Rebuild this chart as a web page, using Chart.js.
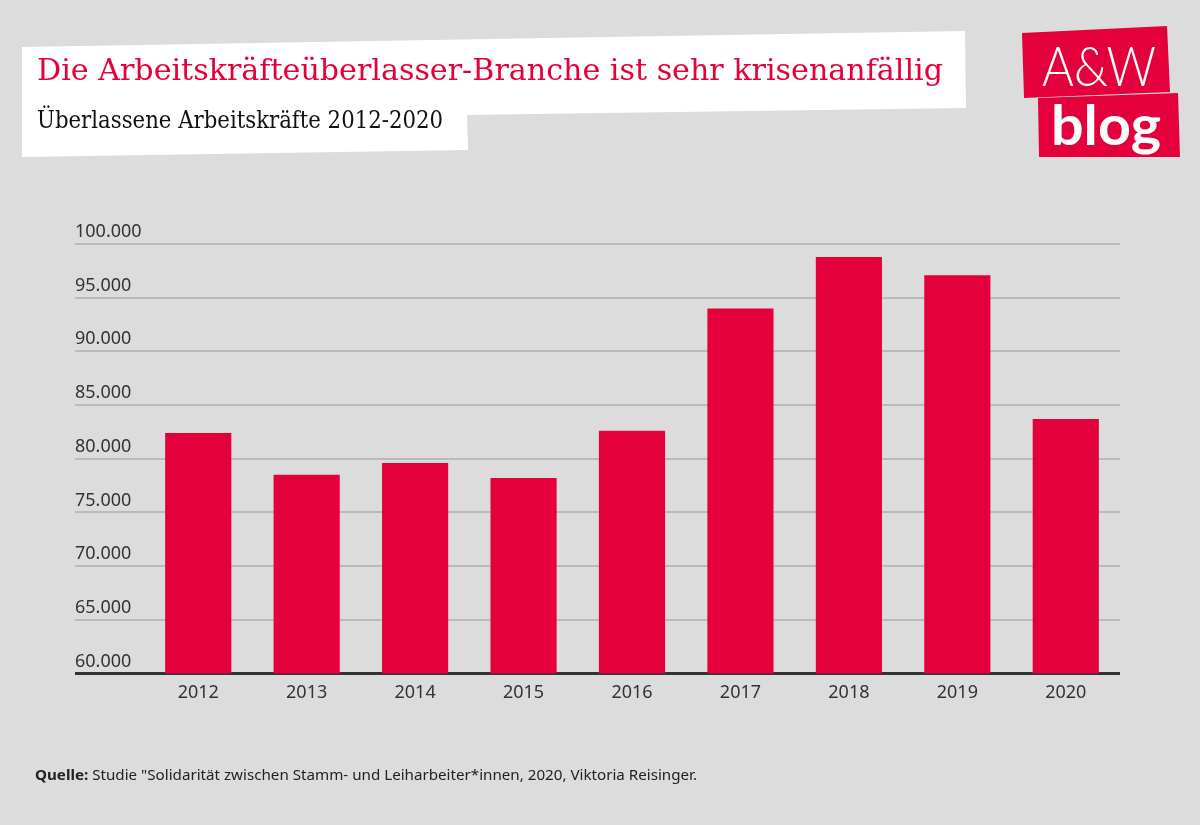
<!DOCTYPE html>
<html>
<head>
<meta charset="utf-8">
<script src="https://cdn.jsdelivr.net/npm/chart.js@4"></script>
<style>
  html, body { margin: 0; padding: 0; background: #dcdcdc; }
  #wrap { position: relative; width: 1200px; height: 825px; overflow: hidden; background: #dcdcdc; }
  #chart { position: absolute; left: 0; top: 0; }
  .box { position: absolute; background: #fff; }
  #titleBox { left: 0; top: 0; width: 1000px; height: 170px;
    clip-path: polygon(22px 47px, 965px 31px, 966px 108px, 467px 115px, 468px 150px, 22px 157px); }
  .txt { position: absolute; white-space: nowrap; transform-origin: 0 0; }
  #title { left: 37px; top: 52px; font-family: "DejaVu Serif", serif; font-size: 30px; color: #e4003b; }
  #subtitle { left: 37px; top: 105px; font-family: "DejaVu Serif", serif; font-size: 25px; color: #111; }
  .logo { position: absolute; background: #e4003b; left: 0; top: 0; width: 1200px; height: 170px; }
  #logo1 { clip-path: polygon(1022px 33px, 1167px 26px, 1170px 92px, 1024px 98px); }
  #logo2 { clip-path: polygon(1038px 98px, 1178px 93px, 1180px 157px, 1039px 157px); }
  #aw { left: 1042px; top: 32px; font-family: Lato, sans-serif; font-weight: 300; font-size: 55px; color: #fff; }
  #blog { left: 1051px; top: 90px; font-family: Lato, sans-serif; font-weight: 700; font-size: 56px; color: #fff; }
  #source { left: 35px; top: 764px; font-family: "Noto Sans", sans-serif; font-size: 15px; color: #222; }
</style>
</head>
<body>
<div id="wrap">
  <canvas id="chart" width="1200" height="825"></canvas>
  <div class="box" id="titleBox"></div>
  <div class="txt" id="title">Die Arbeitskräfteüberlasser-Branche ist sehr krisenanfällig</div>
  <div class="txt" id="subtitle">Überlassene Arbeitskräfte 2012-2020</div>
  <div class="logo" id="logo1"></div>
  <div class="logo" id="logo2"></div>
  <div class="txt" id="aw">A&amp;W</div>
  <div class="txt" id="blog">blog</div>
  <div class="txt" id="source"><b>Quelle:</b> Studie "Solidarität zwischen Stamm- und Leiharbeiter*innen, 2020, Viktoria Reisinger.</div>
</div>
<script>
const years = ['2012', '2013', '2014', '2015', '2016', '2017', '2018', '2019', '2020'];
const workers = [82400, 78500, 79600, 78200, 82600, 94000, 98800, 97100, 83700];
const yMin = 60000;
const yMax = 100000;
const yStep = 5000;

const red = '#e4003b';
const gridGray = '#bababa';
const textGray = '#333333';

// stretch text blocks to the widths measured on the reference
function fitWidth(id, target) {
    const el = document.getElementById(id);
    const w = el.getBoundingClientRect().width;
    el.style.transform = 'scaleX(' + (target / w) + ')';
}
fitWidth('title', 906);
fitWidth('subtitle', 406);
fitWidth('aw', 114);
fitWidth('blog', 110);
fitWidth('source', 662);

function formatThousands(v) {
    return String(v).replace(/\B(?=(\d{3})+(?!\d))/g, '.');
}

const ctx = document.getElementById('chart').getContext('2d');
const chart = new Chart(ctx, {
    type: 'bar',
    data: {
        labels: years,
        datasets: [{
            data: workers,
            backgroundColor: red,
            borderWidth: 0,
            categoryPercentage: 1,
            barPercentage: 0.61
        }]
    },
    options: {
        responsive: false,
        animation: false,
        layout: {
            padding: { left: 75, right: 80, top: 244, bottom: 120 }
        },
        plugins: {
            legend: { display: false },
            tooltip: { enabled: false }
        },
        scales: {
            x: {
                offset: true,
                grid: { display: false },
                border: { display: false },
                ticks: {
                    color: textGray,
                    font: { family: 'Noto Sans', size: 18 },
                    padding: 1
                }
            },
            y: {
                min: yMin,
                max: yMax,
                afterFit: (scale) => { scale.width = 69; },
                border: { display: false },
                grid: {
                    color: (c) => c.tick && c.tick.value === yMin ? textGray : gridGray,
                    lineWidth: (c) => c.tick && c.tick.value === yMin ? 3 : 2,
                    tickColor: (c) => c.tick && c.tick.value === yMin ? textGray : gridGray,
                    tickWidth: (c) => c.tick && c.tick.value === yMin ? 3 : 2,
                    tickLength: 69,
                    drawTicks: true
                },
                ticks: {
                    stepSize: yStep,
                    crossAlign: 'far',
                    labelOffset: -12,
                    padding: 0,
                    color: textGray,
                    font: { family: 'Noto Sans', size: 18 },
                    callback: (v) => formatThousands(v)
                }
            }
        }
    }
});
</script>
</body>
</html>
